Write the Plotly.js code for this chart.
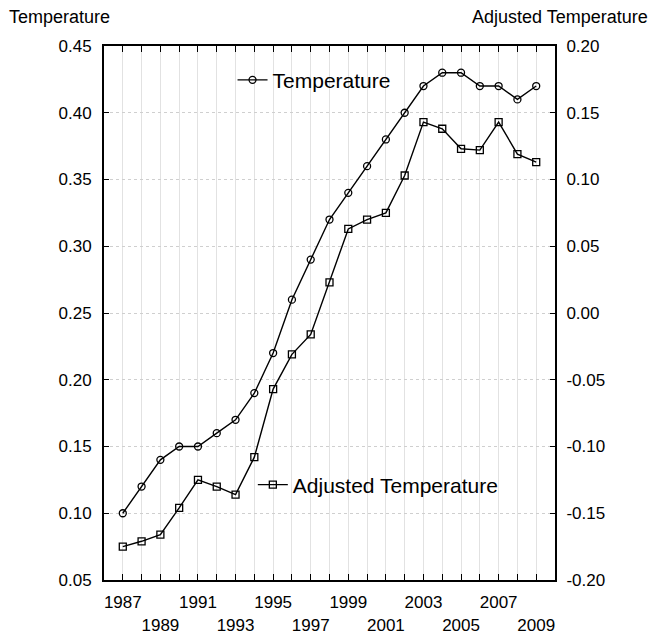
<!DOCTYPE html>
<html>
<head>
<meta charset="utf-8">
<script src="https://cdn.plot.ly/plotly-3.0.1.min.js"></script>
<style>html,body{margin:0;padding:0;background:#fff;}#chart{width:652px;height:637px;}</style>
</head>
<body>
<div id="chart"></div>
<script>
const years = [1987,1988,1989,1990,1991,1992,1993,1994,1995,1996,1997,1998,1999,2000,2001,2002,2003,2004,2005,2006,2007,2008,2009];
const temperature = [0.10,0.12,0.14,0.15,0.15,0.16,0.17,0.19,0.22,0.26,0.29,0.32,0.34,0.36,0.38,0.40,0.42,0.43,0.43,0.42,0.42,0.41,0.42];
const adjustedTemperature = [-0.175,-0.171,-0.166,-0.146,-0.125,-0.130,-0.136,-0.108,-0.057,-0.031,-0.016,0.023,0.063,0.070,0.075,0.103,0.143,0.138,0.123,0.122,0.143,0.119,0.113];

const xTickVals = [1987,1989,1991,1993,1995,1997,1999,2001,2003,2005,2007,2009];
const xTickText = ["1987","<br>1989","1991","<br>1993","1995","<br>1997","1999","<br>2001","2003","<br>2005","2007","<br>2009"];
const leftTickVals = [0.05,0.10,0.15,0.20,0.25,0.30,0.35,0.40,0.45];
const leftTickText = ["0.05","0.10","0.15","0.20","0.25","0.30","0.35","0.40","0.45"];
const rightTickVals = [-0.20,-0.15,-0.10,-0.05,0.00,0.05,0.10,0.15,0.20];
const rightTickText = ["-0.20","-0.15","-0.10","-0.05","0.00","0.05","0.10","0.15","0.20"];

const FONT = "Liberation Sans, Arial, sans-serif";

const traces = [
  {
    x: years, y: temperature, name: "Temperature", type: "scatter", mode: "lines+markers",
    line: {color: "#000", width: 1.4},
    marker: {symbol: "circle-open", size: 7, color: "#000", line: {width: 1.3, color: "#000"}},
    yaxis: "y", legend: "legend"
  },
  {
    x: years, y: adjustedTemperature, name: "Adjusted Temperature", type: "scatter", mode: "lines+markers",
    line: {color: "#000", width: 1.4},
    marker: {symbol: "square-open", size: 7, color: "#000", line: {width: 1.3, color: "#000"}},
    yaxis: "y2", legend: "legend2"
  }
];

const layout = {
  width: 652, height: 637,
  margin: {l: 104, r: 97, t: 46, b: 57, pad: 0},
  paper_bgcolor: "#fff", plot_bgcolor: "#fff",
  font: {family: FONT, size: 17, color: "#000"},
  showlegend: true,
  xaxis: {
    range: [1986, 2010],
    tickmode: "array", tickvals: xTickVals, ticktext: xTickText, tickangle: 0,
    ticks: "inside", ticklen: 6, tickwidth: 1, tickcolor: "#000",
    showline: true, linecolor: "#000", linewidth: 2, mirror: "ticks",
    showgrid: true, gridcolor: "#e2e2e2", gridwidth: 1,
    minor: {tick0: 1986, dtick: 1, ticks: "inside", ticklen: 6, tickcolor: "#000", showgrid: true, gridcolor: "#e2e2e2", gridwidth: 1},
    zeroline: false, automargin: false,
    tickfont: {family: FONT, size: 17, color: "#000"},
    ticklabelstandoff: 6
  },
  yaxis: {
    range: [0.05, 0.45],
    tickmode: "array", tickvals: leftTickVals, ticktext: leftTickText,
    ticks: "inside", ticklen: 5, tickcolor: "#000",
    showline: true, linecolor: "#000", linewidth: 2,
    showgrid: true, gridcolor: "#cfcfcf", gridwidth: 1, griddash: "dot",
    zeroline: false, automargin: false,
    tickfont: {family: FONT, size: 17, color: "#000"},
    ticklabelstandoff: 7
  },
  yaxis2: {
    range: [-0.20, 0.20], overlaying: "y", side: "right",
    tickmode: "array", tickvals: rightTickVals, ticktext: rightTickText,
    ticks: "inside", ticklen: 5, tickcolor: "#000",
    showline: true, linecolor: "#000", linewidth: 2,
    showgrid: false, zeroline: false, automargin: false,
    tickfont: {family: FONT, size: 17, color: "#000"},
    ticklabelstandoff: 6
  },
  legend: {
    x: 0.285, y: 0.936, xanchor: "left", yanchor: "middle",
    bgcolor: "rgba(0,0,0,0)", borderwidth: 0, itemwidth: 30,
    font: {family: FONT, size: 21, color: "#000"}
  },
  legend2: {
    x: 0.33, y: 0.178, xanchor: "left", yanchor: "middle",
    bgcolor: "rgba(0,0,0,0)", borderwidth: 0, itemwidth: 30,
    font: {family: FONT, size: 21, color: "#000"}
  },
  annotations: [
    {text: "Temperature", xref: "paper", yref: "paper", x: -0.215, y: 1.055, xanchor: "left", yanchor: "middle", showarrow: false, font: {family: FONT, size: 18, color: "#000"}},
    {text: "Adjusted Temperature", xref: "paper", yref: "paper", x: 1.21, y: 1.055, xanchor: "right", yanchor: "middle", showarrow: false, font: {family: FONT, size: 18, color: "#000"}}
  ]
};

Plotly.newPlot("chart", traces, layout, {displayModeBar: false, staticPlot: true});
</script>
</body>
</html>
